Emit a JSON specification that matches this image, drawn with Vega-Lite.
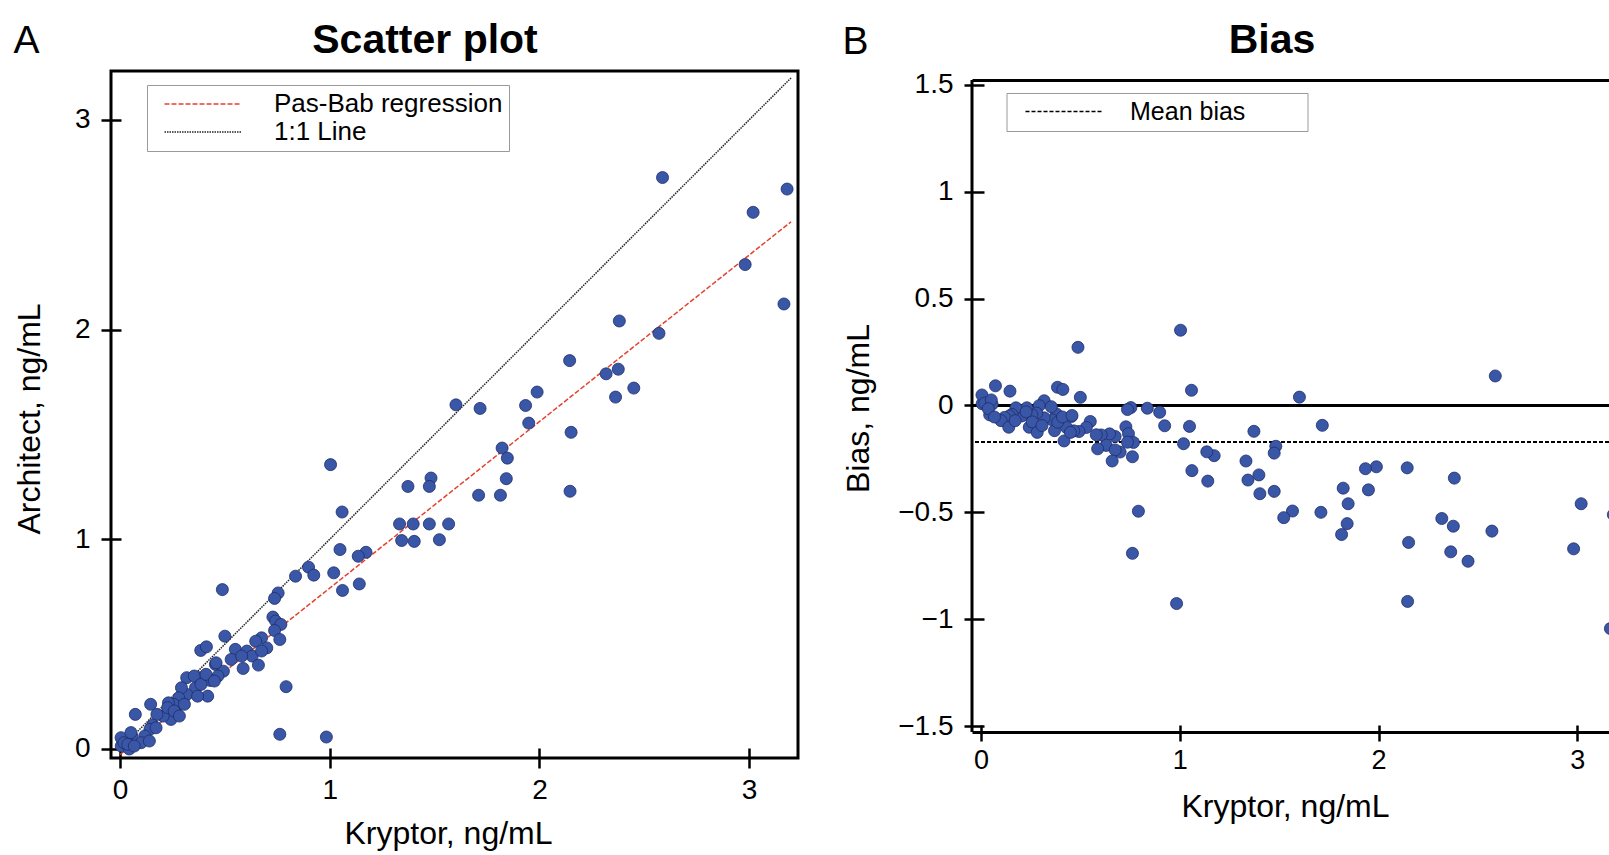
{
  "$schema": "https://vega.github.io/schema/vega-lite/v6.json",
  "padding": {"left": 11, "top": 17, "right": 0, "bottom": 0},
  "background": "white",
  "config": {
    "font": "Liberation Sans",
    "view": {"stroke": null},
    "axis": {"grid": false, "labelColor": "black", "titleColor": "black", "tickColor": "black", "domainColor": "black", "titleFontWeight": "normal", "labelFontWeight": "normal", "labelFlush": false, "labelOverlap": false}
  },
  "resolve": {"scale": {"strokeDash": "independent", "color": "independent"}, "legend": {"strokeDash": "independent", "color": "independent"}},
  "datasets": {
    "pts": [
      {"k":2.587,"a":2.725,"bias":0.138},{"k":3.181,"a":2.670,"bias":-0.511},{"k":3.019,"a":2.559,"bias":-0.460},{"k":2.981,"a":2.310,"bias":-0.671},{"k":3.166,"a":2.122,"bias":-1.044},
      {"k":2.381,"a":2.041,"bias":-0.340},{"k":2.570,"a":1.982,"bias":-0.588},{"k":2.144,"a":1.852,"bias":-0.292},{"k":2.318,"a":1.789,"bias":-0.529},{"k":2.376,"a":1.811,"bias":-0.565},
      {"k":2.450,"a":1.721,"bias":-0.729},{"k":2.363,"a":1.678,"bias":-0.685},{"k":1.989,"a":1.702,"bias":-0.287},{"k":1.934,"a":1.638,"bias":-0.296},{"k":1.602,"a":1.641,"bias":0.039},
      {"k":1.717,"a":1.624,"bias":-0.093},{"k":1.949,"a":1.554,"bias":-0.395},{"k":2.151,"a":1.510,"bias":-0.641},{"k":1.004,"a":1.356,"bias":0.352},{"k":1.822,"a":1.435,"bias":-0.387},
      {"k":1.847,"a":1.387,"bias":-0.460},{"k":1.373,"a":1.252,"bias":-0.121},{"k":1.483,"a":1.292,"bias":-0.191},{"k":1.475,"a":1.252,"bias":-0.223},{"k":1.842,"a":1.289,"bias":-0.553},
      {"k":1.710,"a":1.210,"bias":-0.500},{"k":1.814,"a":1.210,"bias":-0.604},{"k":2.146,"a":1.229,"bias":-0.917},{"k":1.059,"a":1.130,"bias":0.071},{"k":1.333,"a":1.073,"bias":-0.260},
      {"k":1.398,"a":1.073,"bias":-0.325},{"k":1.475,"a":1.073,"bias":-0.402},{"k":1.567,"a":1.073,"bias":-0.494},{"k":1.343,"a":0.994,"bias":-0.349},{"k":1.403,"a":0.990,"bias":-0.413},
      {"k":1.523,"a":0.998,"bias":-0.525},{"k":1.049,"a":0.951,"bias":-0.098},{"k":1.173,"a":0.938,"bias":-0.235},{"k":1.136,"a":0.919,"bias":-0.217},{"k":0.899,"a":0.867,"bias":-0.032},
      {"k":0.924,"a":0.829,"bias":-0.095},{"k":0.837,"a":0.824,"bias":-0.013},{"k":1.019,"a":0.840,"bias":-0.179},{"k":1.061,"a":0.756,"bias":-0.305},{"k":1.141,"a":0.787,"bias":-0.354},
      {"k":0.488,"a":0.760,"bias":0.272},{"k":0.754,"a":0.744,"bias":-0.010},{"k":0.737,"a":0.718,"bias":-0.019},{"k":0.729,"a":0.629,"bias":-0.100},{"k":0.742,"a":0.610,"bias":-0.132},
      {"k":0.767,"a":0.594,"bias":-0.173},{"k":0.737,"a":0.565,"bias":-0.172},{"k":0.762,"a":0.522,"bias":-0.240},{"k":0.500,"a":0.538,"bias":0.038},{"k":0.675,"a":0.530,"bias":-0.145},
      {"k":0.647,"a":0.514,"bias":-0.133},{"k":0.700,"a":0.482,"bias":-0.218},{"k":0.385,"a":0.470,"bias":0.085},{"k":0.412,"a":0.487,"bias":0.075},{"k":0.550,"a":0.475,"bias":-0.075},
      {"k":0.605,"a":0.467,"bias":-0.138},{"k":0.630,"a":0.443,"bias":-0.187},{"k":0.675,"a":0.467,"bias":-0.208},{"k":0.530,"a":0.427,"bias":-0.103},{"k":0.580,"a":0.443,"bias":-0.137},
      {"k":0.587,"a":0.384,"bias":-0.203},{"k":0.660,"a":0.400,"bias":-0.260},{"k":0.792,"a":0.297,"bias":-0.495},{"k":0.455,"a":0.403,"bias":-0.052},{"k":0.493,"a":0.371,"bias":-0.122},
      {"k":0.467,"a":0.348,"bias":-0.119},{"k":0.430,"a":0.327,"bias":-0.103},{"k":0.418,"a":0.252,"bias":-0.166},{"k":0.380,"a":0.340,"bias":-0.040},{"k":0.360,"a":0.292,"bias":-0.068},
      {"k":0.318,"a":0.340,"bias":0.022},{"k":0.318,"a":0.260,"bias":-0.058},{"k":0.293,"a":0.292,"bias":-0.001},{"k":0.280,"a":0.244,"bias":-0.036},{"k":0.256,"a":0.213,"bias":-0.043},
      {"k":0.231,"a":0.220,"bias":-0.011},{"k":0.268,"a":0.173,"bias":-0.095},{"k":0.243,"a":0.141,"bias":-0.102},{"k":0.206,"a":0.157,"bias":-0.049},{"k":0.146,"a":0.213,"bias":0.067},
      {"k":0.176,"a":0.165,"bias":-0.011},{"k":0.156,"a":0.114,"bias":-0.042},{"k":0.143,"a":0.094,"bias":-0.049},{"k":0.073,"a":0.165,"bias":0.092},{"k":0.118,"a":0.062,"bias":-0.056},
      {"k":0.101,"a":0.030,"bias":-0.071},{"k":0.056,"a":0.062,"bias":0.006},{"k":0.031,"a":0.038,"bias":0.007},{"k":0.006,"a":0.014,"bias":0.008},{"k":0.044,"a":0.000,"bias":-0.044},
      {"k":0.005,"a":0.054,"bias":0.049},{"k":0.019,"a":0.030,"bias":0.011},{"k":0.762,"a":0.070,"bias":-0.692},{"k":0.984,"a":0.057,"bias":-0.927},{"k":0.052,"a":0.078,"bias":0.026},
      {"k":0.037,"a":0.022,"bias":-0.015},{"k":0.068,"a":0.014,"bias":-0.054},{"k":0.140,"a":0.038,"bias":-0.102},{"k":0.172,"a":0.101,"bias":-0.071},{"k":0.227,"a":0.197,"bias":-0.030},
      {"k":0.258,"a":0.181,"bias":-0.077},{"k":0.283,"a":0.157,"bias":-0.126},{"k":0.307,"a":0.213,"bias":-0.094},{"k":0.354,"a":0.348,"bias":-0.006},{"k":0.370,"a":0.252,"bias":-0.118},
      {"k":0.386,"a":0.308,"bias":-0.078},{"k":0.410,"a":0.356,"bias":-0.054},{"k":0.450,"a":0.324,"bias":-0.126},{"k":0.458,"a":0.411,"bias":-0.047}
    ],
    "lines": [
      {"series":"Pas-Bab regression","k":0.0,"a":-0.027},
      {"series":"Pas-Bab regression","k":3.2,"a":2.514},
      {"series":"1:1 Line","k":0.0,"a":0.0},
      {"series":"1:1 Line","k":3.2,"a":3.2}
    ],
    "zero": [{"y":0}],
    "mean": [{"y":-0.171,"label":"Mean bias"}]
  },
  "hconcat": [
    {
      "width": 687,
      "height": 687,
      "view": {"stroke": "black", "strokeWidth": 3},
      "layer": [
        {
          "data": {"name": "lines"},
          "mark": {"type": "line", "clip": true, "strokeWidth": 1.5},
          "encoding": {
            "x": {"field": "k", "type": "quantitative", "scale": {"domain": [-0.043, 3.233], "nice": false, "zero": false},
              "axis": {"orient": "top", "domain": false, "ticks": false, "labels": false, "title": "Scatter plot", "titleFontSize": 41, "titleFontWeight": "bold", "titleX": 313.5, "titleY": -19, "titleAlign": "center", "titleBaseline": "alphabetic", "titleAngle": 0}},
            "y": {"field": "a", "type": "quantitative", "scale": {"domain": [-0.043, 3.233], "nice": false, "zero": false},
              "axis": {"orient": "left", "domain": false, "ticks": false, "labels": false, "title": "A", "titleFontSize": 39, "titleAngle": 0, "titleX": -98, "titleY": -19, "titleAlign": "left", "titleBaseline": "alphabetic"}},
            "color": {"field": "series", "type": "nominal", "scale": {"domain": ["Pas-Bab regression", "1:1 Line"], "range": ["#e4412f", "#222222"]},
              "legend": {"orient": "none", "legendX": 36, "legendY": 14, "title": null, "strokeColor": "#999999", "fillColor": "white", "padding": 6, "symbolType": "M-5,0H5", "symbolSize": 237, "symbolStrokeWidth": 1.5, "symbolOffset": 37, "labelFontSize": 26, "labelOffset": 58, "labelLimit": 400, "rowPadding": 2, "labelColor": "black"}},
            "strokeDash": {"field": "series", "type": "nominal", "scale": {"domain": ["Pas-Bab regression", "1:1 Line"], "range": [[5, 2], [1.5, 1]]},
              "legend": {"orient": "none", "legendX": 36, "legendY": 14, "title": null, "strokeColor": "#999999", "fillColor": "white", "padding": 6, "symbolType": "M-5,0H5", "symbolSize": 237, "symbolStrokeWidth": 1.5, "symbolOffset": 37, "labelFontSize": 26, "labelOffset": 58, "labelLimit": 400, "rowPadding": 2, "labelColor": "black"}}
          }
        },
        {
          "data": {"name": "pts"},
          "mark": {"type": "point", "filled": true, "size": 145, "fill": "#3a56a6", "stroke": "#1e2d6b", "strokeWidth": 0.8, "opacity": 1},
          "encoding": {
            "x": {"field": "k", "type": "quantitative", "scale": {"domain": [-0.043, 3.233], "nice": false, "zero": false},
              "axis": {"orient": "bottom", "values": [0, 1, 2, 3], "format": "~g", "domain": false, "offset": -10, "tickSize": 20, "tickWidth": 2.5, "labelFontSize": 28, "labelPadding": 8, "title": "Kryptor, ng/mL", "titleFontSize": 32, "titleX": 337, "titleY": 95, "titleAlign": "center", "titleBaseline": "alphabetic"}},
            "y": {"field": "a", "type": "quantitative", "scale": {"domain": [-0.043, 3.233], "nice": false, "zero": false},
              "axis": {"orient": "left", "values": [0, 1, 2, 3], "format": "~g", "domain": false, "offset": -10, "tickSize": 20, "tickWidth": 2.5, "labelFontSize": 28, "labelPadding": 11, "title": "Architect, ng/mL", "titleFontSize": 32, "titleAngle": -90, "titleX": -82, "titleY": 347.5, "titleAlign": "center", "titleBaseline": "alphabetic"}}
          }
        }
      ],
      "resolve": {"axis": {"x": "independent", "y": "independent"}}
    },
    {
      "width": 637,
      "height": 661,
      "layer": [
        {
          "data": {"values": [{}]},
          "mark": {"type": "rule", "color": "black", "strokeWidth": 3},
          "encoding": {
            "x": {"datum": -0.045, "type": "quantitative", "scale": {"domain": [-0.045, 3.159], "nice": false, "zero": false},
              "axis": {"orient": "bottom", "values": [0, 1, 2, 3], "domain": false, "labels": false, "tickSize": -7, "tickWidth": 2.5, "title": null}},
            "y": {"datum": -1.528, "type": "quantitative", "scale": {"domain": [-1.528, 1.565], "nice": false, "zero": false},
              "axis": {"orient": "left", "values": [-1.5, -1, -0.5, 0, 0.5, 1, 1.5], "domain": false, "labels": false, "tickSize": -12, "tickWidth": 2.5, "title": null}},
            "y2": {"datum": 1.523}
          }
        },
        {
          "data": {"name": "zero"},
          "mark": {"type": "rule", "color": "black", "strokeWidth": 3},
          "encoding": {
            "y": {"field": "y", "type": "quantitative", "scale": {"domain": [-1.528, 1.565], "nice": false, "zero": false},
              "axis": {"orient": "left", "domain": false, "ticks": false, "labels": false, "title": "B", "titleFontSize": 39, "titleAngle": 0, "titleX": -130, "titleY": -18, "titleAlign": "left", "titleBaseline": "alphabetic"}}
          }
        },
        {
          "data": {"name": "mean"},
          "mark": {"type": "rule", "color": "black", "strokeWidth": 2},
          "encoding": {
            "y": {"field": "y", "type": "quantitative", "scale": {"domain": [-1.528, 1.565], "nice": false, "zero": false}, "axis": null},
            "strokeDash": {"field": "label", "type": "nominal", "scale": {"domain": ["Mean bias"], "range": [[4, 2]]},
              "legend": {"orient": "none", "legendX": 34.5, "legendY": 22, "title": null, "strokeColor": "#999999", "fillColor": "white", "padding": 6, "symbolType": "M-5,0H5", "symbolSize": 231, "symbolStrokeWidth": 1.5, "symbolStrokeColor": "black", "symbolOffset": 38.5, "labelFontSize": 25, "labelOffset": 54, "labelLimit": 400, "labelColor": "black", "labelExpr": "datum.label + '\u00a0\u00a0\u00a0\u00a0\u00a0\u00a0\u00a0\u00a0\u200b'"}}
          }
        },
        {
          "data": {"name": "pts"},
          "mark": {"type": "point", "filled": true, "size": 145, "fill": "#3a56a6", "stroke": "#1e2d6b", "strokeWidth": 0.8, "opacity": 1, "clip": true},
          "encoding": {
            "x": {"field": "k", "type": "quantitative", "scale": {"domain": [-0.045, 3.159], "nice": false, "zero": false},
              "axis": {"orient": "bottom", "values": [0, 1, 2, 3], "format": "~g", "domainWidth": 3, "tickSize": 9, "tickWidth": 2.5, "labelFontSize": 27, "labelPadding": 6, "title": "Kryptor, ng/mL", "titleFontSize": 32, "titleX": 313, "titleY": 84, "titleAlign": "center", "titleBaseline": "alphabetic"}},
            "y": {"field": "bias", "type": "quantitative", "scale": {"domain": [-1.528, 1.565], "nice": false, "zero": false},
              "axis": {"orient": "left", "values": [-1.5, -1, -0.5, 0, 0.5, 1, 1.5], "format": "~g", "domain": false, "tickSize": 8, "tickWidth": 2.5, "labelFontSize": 28, "labelPadding": 11, "title": "Bias, ng/mL", "titleFontSize": 32, "titleAngle": -90, "titleX": -104, "titleY": 337, "titleAlign": "center", "titleBaseline": "alphabetic"}}
          }
        },
        {
          "data": {"name": "pts"},
          "mark": {"type": "point", "opacity": 0, "clip": true},
          "encoding": {
            "x": {"field": "k", "type": "quantitative", "scale": {"domain": [-0.045, 3.159], "nice": false, "zero": false},
              "axis": {"orient": "top", "offset": -9, "domainWidth": 3, "ticks": false, "labels": false, "title": "Bias", "titleFontSize": 41, "titleFontWeight": "bold", "titleX": 299.5, "titleY": -28, "titleAlign": "center", "titleBaseline": "alphabetic", "titleAngle": 0}},
            "y": {"field": "bias", "type": "quantitative", "axis": null}
          }
        }
      ],
      "resolve": {"axis": {"x": "independent", "y": "independent"}}
    }
  ],
  "spacing": 174,
  "bounds": "flush"
}
